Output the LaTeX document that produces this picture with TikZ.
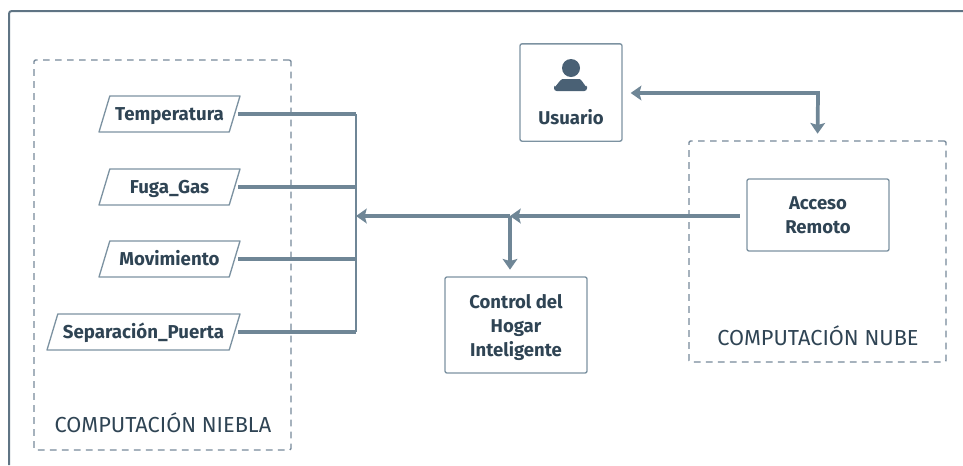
\documentclass[tikz,border=0pt]{standalone}
\usepackage{fontspec}
\setmainfont{Fira Sans}
\usetikzlibrary{positioning,arrows.meta,shapes.geometric}

\definecolor{framegray}{HTML}{5F7484}
\definecolor{linegray}{HTML}{6F8696}
\definecolor{boxgray}{HTML}{7C92A1}
\definecolor{dashgray}{HTML}{76899A}
\definecolor{textdark}{HTML}{2F4454}
\definecolor{icondark}{HTML}{4A6175}

\tikzset{
    block/.style={draw=boxgray, line width=1pt, rounded corners=1.5pt, align=center, text=textdark,
        font=\fontsize{13.9}{18}\selectfont\bfseries, inner sep=0pt},
    sensor/.style={trapezium, trapezium left angle=51, trapezium right angle=129, trapezium stretches body=true,
        draw=boxgray, line width=1pt, line join=round, text=textdark, text height=10pt, text depth=0pt,
        font=\fontsize{14}{14}\selectfont\bfseries, inner sep=0pt, minimum height=27pt},
    zone/.style={draw=dashgray, line width=1pt, dash pattern=on 5pt off 4pt, rounded corners=1pt},
    zonelabel/.style={text=textdark, font=\fontsize{16.3}{18}\selectfont},
    wire/.style={draw=linegray, line width=2.8pt},
    bus/.style={draw=linegray, line width=1.5pt},
    flow/.style={wire, -{Stealth[length=8pt, width=11pt, inset=1.5pt]}}
}

\begin{document}
\begin{tikzpicture}[x=0.75pt, y=-0.75pt]

        % fixes the page at the size of the reference
        \useasboundingbox (0,0) rectangle (963,465);

        % outer frame, cut by the page on two sides
        \draw[draw=framegray, line width=1.5pt, rounded corners=2pt] (9,465) -- (9,11) -- (963,11);

        % dashed zones
        \node[zone, minimum width=192.75pt, minimum height=292.5pt] (niebla) at (162.5,255) {};
        \node[zone, minimum width=192.75pt, minimum height=165.75pt] (nube) at (817.5,251.5) {};
        \node[zonelabel] (niebla label) at (163,423) {COMPUTACIÓN NIEBLA};
        \node[zonelabel] (nube label) at (818,336) {COMPUTACIÓN NUBE};

        % sensors
        \foreach \name/\txt/\cx/\cy/\boxw in {temp/Temperatura/169.5/114/105.75, fuga/Fuga\_Gas/169.5/187/105.75,
            mov/Movimiento/169.5/259/105.75, puerta/Separación\_Puerta/143.5/332/144.75} {
            \node[sensor, minimum width=\boxw pt] (\name) at (\cx,\cy) {\txt};
        }

        % blocks
        \node[block, minimum width=76.5pt, minimum height=73pt] (usuario) at (571,92.5) {};
        \node[block, minimum width=106.5pt, minimum height=54pt] (acceso) at (818,215) {Acceso\\Remoto};
        \node[block, minimum width=106.5pt, minimum height=72pt] (control) at (516,325) {\rule{0pt}{14pt}Control del\\Hogar\\Inteligente};
        \node[text=textdark, font=\fontsize{13.9}{14}\selectfont\bfseries] (usuario label) at (571,117) {Usuario};

        % person icon
        \fill[icondark] (571,68) circle (9);
        \fill[icondark, rounded corners=2pt] (554,91) -- (554,84) to[out=-80, in=180] (565,79) -- (577,79)
            to[out=0, in=-100] (587,84) -- (587,91) -- cycle;

        % junction points
        \coordinate (busleft) at (356,114);
        \coordinate (busright) at (356,332);
        \coordinate (busin) at (356,216);
        \coordinate (split) at (510,216);
        \coordinate (corner) at (818,93);

        % sensors to bus
        \draw[bus] (busleft) -- (busright);
        \foreach \name in {temp,fuga,mov,puerta} {
            \draw[wire, shorten <=2.2pt] (\name.east) -- (\name.east -| busleft);
        }

        % flow from the remote access
        \draw[flow, shorten <=5pt] (acceso.west |- split) -- (split);
        \draw[flow] (split) -- (busin);
        \draw[flow, shorten >=5pt] (split) -- (split |- control.north);

        % user and cloud
        \draw[wire, {Stealth[length=8pt, width=11pt, inset=1.5pt]}-{Stealth[length=8pt, width=11pt, inset=1.5pt]},
            shorten <=6pt, shorten >=5pt] (usuario.east |- corner) -- (corner) -- (nube.north);

    \end{tikzpicture}
\end{document}
